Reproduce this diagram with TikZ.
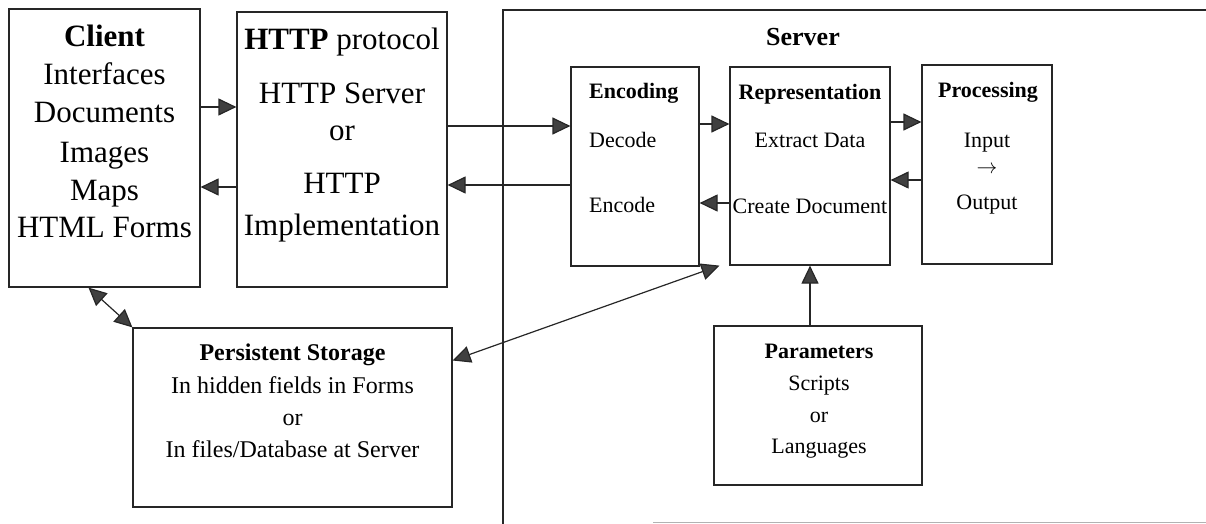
\documentclass[tikz,border=0pt]{standalone}
\usepackage{fontspec}
\setmainfont{Liberation Serif}
\usetikzlibrary{arrows.meta,calc}
\begin{document}
\begin{tikzpicture}[x=1pt,y=-1pt,
  box/.style={draw=black!85, line width=1.2pt, inner sep=0pt, fill=none},
  bigtxt/.style={font=\fontsize{31}{37}\selectfont, inner sep=0pt, anchor=base},
  midtxt/.style={font=\fontsize{22}{26}\selectfont, inner sep=0pt, anchor=base},
  stotxt/.style={font=\fontsize{24}{28}\selectfont, inner sep=0pt, anchor=base},
  ttltxt/.style={font=\fontsize{26}{30}\selectfont\bfseries, inner sep=0pt, anchor=base},
  arr/.style={line width=1.2pt, draw=black!85, -{Triangle[length=18pt,width=17pt,fill=black!75]}},
  darr/.style={line width=1.2pt, draw=black!85, {Triangle[length=18pt,width=17pt,fill=black!75]}-{Triangle[length=18pt,width=17pt,fill=black!75]}},
  frame/.style={line width=1.2pt, draw=black!85}
]
\useasboundingbox (0,0) rectangle (1206,524);

% server frame
\coordinate (sftop) at (503,10);
\coordinate (sfbot) at (503,524);
\coordinate (sfright) at (1206,10);
\draw[frame] (sfbot) -- (sftop) -- (sfright);
\coordinate (sbl) at (653,522);
\coordinate (sbr) at (1206,522);
\draw[line width=1pt, draw=black!30] (sbl) -- (sbr);
\node[ttltxt] (servert) at (803,46) {Server};

% boxes
\node[box, minimum width=191pt, minimum height=278pt] (client) at (104.5,148) {};
\node[box, minimum width=210pt, minimum height=275pt] (http) at (342,149.5) {};
\node[box, minimum width=128pt, minimum height=199pt] (enc) at (635,166.5) {};
\node[box, minimum width=160pt, minimum height=198pt] (rep) at (810,166) {};
\node[box, minimum width=130pt, minimum height=199pt] (proc) at (987,164.5) {};
\node[box, minimum width=319pt, minimum height=179pt] (stor) at (292.5,417.5) {};
\node[box, minimum width=208pt, minimum height=159pt] (par) at (818,405.5) {};

% client text
\node[bigtxt] (c1) at (104.5,47) {\textbf{Client}};
\node[bigtxt] (c2) at (104.5,85) {Interfaces};
\node[bigtxt] (c3) at (104.5,123) {Documents};
\node[bigtxt] (c4) at (104.5,162) {Images};
\node[bigtxt] (c5) at (104.5,200) {Maps};
\node[bigtxt] (c6) at (104.5,237) {HTML Forms};

% http text
\node[bigtxt] (h1) at (342,50) {\textbf{HTTP} protocol};
\node[bigtxt] (h2) at (342,103) {HTTP Server};
\node[bigtxt] (h3) at (342,140) {or};
\node[bigtxt] (h4) at (342,193) {HTTP};
\node[bigtxt] (h5) at (342,235) {Implementation};

% encoding text
\node[midtxt, anchor=base west] (e1) at (589,99) {\textbf{Encoding}};
\node[midtxt, anchor=base west] (e2) at (589,147) {Decode};
\node[midtxt, anchor=base west] (e3) at (589,212) {Encode};

% representation text
\node[midtxt] (r1) at (810,100) {\textbf{Representation}};
\node[midtxt] (r2) at (810,147) {Extract Data};
\node[midtxt] (r3) at (810,213) {Create Document};

% processing text
\node[midtxt] (p1) at (988,98) {\textbf{Processing}};
\node[midtxt] (p2) at (987,147) {Input};
\node[midtxt, anchor=center] (p3) at (987,170) {$\rightarrow$};
\node[midtxt] (p4) at (987,209) {Output};

% storage text
\node[stotxt] (s1) at (292.5,360) {\textbf{Persistent Storage}};
\node[stotxt] (s2) at (292.5,393) {In hidden fields in Forms};
\node[stotxt] (s3) at (292.5,425) {or};
\node[stotxt] (s4) at (292.5,457) {In files/Database at Server};

% parameters text
\node[midtxt] (q1) at (819,358) {\textbf{Parameters}};
\node[midtxt] (q2) at (819,390) {Scripts};
\node[midtxt] (q3) at (819,422) {or};
\node[midtxt] (q4) at (819,453) {Languages};

% row coordinates
\coordinate (y107) at (0,107);
\coordinate (y187) at (0,187);
\coordinate (y126) at (0,126);
\coordinate (y185) at (0,185);
\coordinate (y124) at (0,124);
\coordinate (y203) at (0,203);
\coordinate (y122) at (0,122);
\coordinate (y180) at (0,180);

% connectors
\draw[arr] (client.east |- y107) -- (http.west |- y107);
\draw[arr] (http.west |- y187) -- (client.east |- y187);
\draw[arr] (http.east |- y126) -- (enc.west |- y126);
\draw[arr] (enc.west |- y185) -- (http.east |- y185);
\draw[arr] (enc.east |- y124) -- (rep.west |- y124);
\draw[arr] (rep.west |- y203) -- (enc.east |- y203);
\draw[arr] (rep.east |- y122) -- (proc.west |- y122);
\draw[arr] (proc.west |- y180) -- (rep.east |- y180);
\draw[arr] (par.north -| rep.south) -- (rep.south);
\draw[darr] ([xshift=-16pt]client.south) -- (stor.north west);
\draw[darr] ([xshift=-10pt]rep.south west) -- ([yshift=57pt]stor.east);
\end{tikzpicture}
\end{document}
